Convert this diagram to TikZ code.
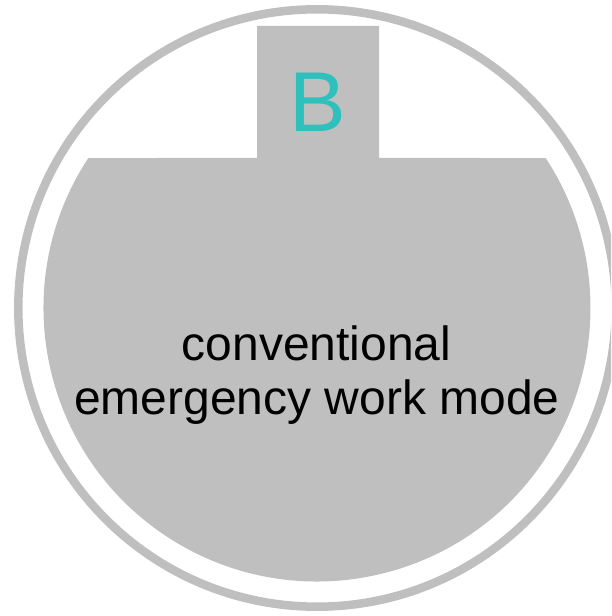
\documentclass[tikz,border=0pt]{standalone}
\usepackage{fontspec}
\setmainfont{Liberation Sans}
\definecolor{shapegray}{HTML}{BFBFBF}
\definecolor{ringgray}{HTML}{BFBFBF}
\definecolor{teal}{HTML}{2EC0BD}
\begin{document}
\begin{tikzpicture}[x=1pt,y=1pt,
  ring/.style={draw=ringgray,line width=8.5pt},
  body/.style={fill=shapegray,draw=none},
  letter/.style={text=teal,inner sep=0pt,anchor=base,font=\fontsize{85}{100}\selectfont},
  caption/.style={text=black,inner sep=0pt,anchor=base,font=\fontsize{48}{56}\selectfont}]
\useasboundingbox (0,0) rectangle (611,616);
\clip (0,0) rectangle (611,616);
\coordinate (c) at (317,308);
\draw[ring] (c) circle[radius=298.7];
\path[body] (c) ++(146.74:273.5) arc[start angle=146.74,end angle=393.26,radius=273.5]
  -- (379,458) -- (379,590) -- (257,590) -- (257,458) -- cycle;
\node[letter] (b) at (318,484.3) {B};
\node[caption] (l1) at (316.6,255.5) {conventional};
\node[caption] (l2) at (316.8,201) {emergency work mode};
\end{tikzpicture}
\end{document}
